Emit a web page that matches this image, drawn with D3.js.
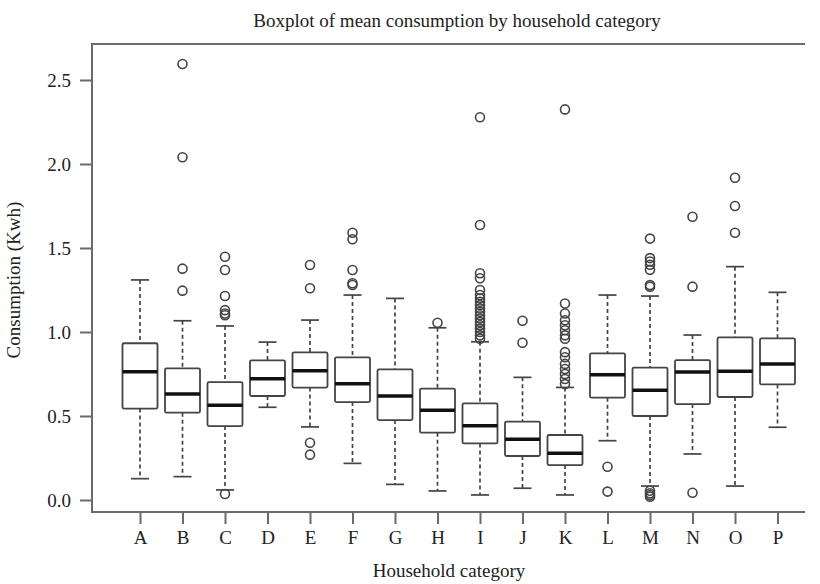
<!DOCTYPE html>
<html>
<head>
<meta charset="utf-8">
<script src="https://cdn.jsdelivr.net/npm/d3@7"></script>
<style>
  body { margin: 0; background: #fff; }
  text { font-family: "Liberation Serif", "DejaVu Serif", serif; fill: #222; }
</style>
</head>
<body>
<svg id="chart"></svg>
<script>
const categories = ["A","B","C","D","E","F","G","H","I","J","K","L","M","N","O","P"];
const lowWhisker = [0.127,0.139,0.06,0.552,0.435,0.218,0.093,0.054,0.03,0.07,0.03,0.353,0.083,0.274,0.083,0.433];
const q1Values   = [0.544,0.52,0.44,0.619,0.669,0.583,0.476,0.401,0.337,0.262,0.208,0.609,0.5,0.571,0.613,0.688];
const medians    = [0.764,0.631,0.564,0.722,0.77,0.692,0.619,0.534,0.442,0.361,0.278,0.746,0.653,0.762,0.766,0.81];
const q3Values   = [0.933,0.784,0.702,0.831,0.879,0.849,0.778,0.663,0.575,0.466,0.387,0.873,0.788,0.833,0.968,0.962];
const highWhisker= [1.31,1.067,1.036,0.94,1.071,1.22,1.2,1.025,0.942,0.73,0.67,1.22,1.214,0.982,1.389,1.236];
const outliers = [
  [],
  [2.595,2.04,1.377,1.246],
  [1.448,1.369,1.214,1.13,1.11,1.10,0.036],
  [],
  [1.399,1.26,0.341,0.27],
  [1.591,1.552,1.369,1.29,1.28],
  [],
  [1.055],
  [2.278,1.637,1.35,1.32,1.25,1.22,1.20,1.18,1.16,1.14,1.12,1.10,1.08,1.06,1.04,1.02,1.00,0.98,0.96],
  [1.067,0.936],
  [2.325,1.17,1.11,1.07,1.04,1.01,0.98,0.96,0.88,0.85,0.81,0.78,0.75,0.72,0.69],
  [0.198,0.05],
  [1.556,1.44,1.42,1.40,1.37,1.28,1.27,0.055,0.04,0.03,0.02],
  [1.686,1.27,0.043],
  [1.918,1.75,1.591],
  []
];
const yTicks = [0, 0.5, 1.0, 1.5, 2.0, 2.5];

const width = 820, height = 584;
const plotLeft = 92, plotTop = 44, plotBottom = 512, plotRight = 805;
const fontSize = 19;

const svg = d3.select("#chart").attr("width", width).attr("height", height);

const x = d3.scalePoint().domain(categories).range([140, 777.5]);
const y = d3.scaleLinear().domain([-12 / 168, 456 / 168]).range([plotBottom, plotTop]);

const axisColor = "#6a6a6a";
const boxColor = "#444";
const boxW = 35, capW = 18;

// frame (open at the right)
svg.append("path")
  .attr("d", `M${plotRight},${plotTop}H${plotLeft}V${plotBottom}H${plotRight}`)
  .attr("fill", "none").attr("stroke", axisColor).attr("stroke-width", 2);

// y axis
const yAxis = svg.append("g").attr("transform", `translate(${plotLeft},0)`)
  .call(d3.axisLeft(y).tickValues(yTicks).tickFormat(d3.format(".1f")).tickSize(12).tickPadding(9));
yAxis.select(".domain").remove();
yAxis.selectAll("line").attr("stroke", axisColor).attr("stroke-width", 2);
yAxis.selectAll("text").attr("font-size", fontSize).attr("fill", "#222")
  .style("font-family", "'Liberation Serif', serif");

// x axis
const xAxis = svg.append("g").attr("transform", `translate(0,${plotBottom})`)
  .call(d3.axisBottom(x).tickSize(12).tickPadding(7));
xAxis.select(".domain").remove();
xAxis.selectAll("line").attr("stroke", axisColor).attr("stroke-width", 2);
xAxis.selectAll("text").attr("font-size", fontSize).attr("fill", "#222")
  .style("font-family", "'Liberation Serif', serif");

// boxes
const rows = categories.map((c, i) => ({
  c, lo: lowWhisker[i], q1: q1Values[i], med: medians[i], q3: q3Values[i], hi: highWhisker[i], out: outliers[i]
}));

const g = svg.append("g");
const box = g.selectAll("g.box").data(rows).enter().append("g").attr("class", "box");

box.append("line")
  .attr("x1", d => x(d.c)).attr("x2", d => x(d.c))
  .attr("y1", d => y(d.hi)).attr("y2", d => y(d.q3))
  .attr("stroke", boxColor).attr("stroke-width", 1.7).attr("stroke-dasharray", "4,3");
box.append("line")
  .attr("x1", d => x(d.c)).attr("x2", d => x(d.c))
  .attr("y1", d => y(d.q1)).attr("y2", d => y(d.lo))
  .attr("stroke", boxColor).attr("stroke-width", 1.7).attr("stroke-dasharray", "4,3");
box.append("line")
  .attr("x1", d => x(d.c) - capW / 2).attr("x2", d => x(d.c) + capW / 2)
  .attr("y1", d => y(d.hi)).attr("y2", d => y(d.hi))
  .attr("stroke", boxColor).attr("stroke-width", 1.7);
box.append("line")
  .attr("x1", d => x(d.c) - capW / 2).attr("x2", d => x(d.c) + capW / 2)
  .attr("y1", d => y(d.lo)).attr("y2", d => y(d.lo))
  .attr("stroke", boxColor).attr("stroke-width", 1.7);
box.append("rect")
  .attr("x", d => x(d.c) - boxW / 2).attr("width", boxW)
  .attr("y", d => y(d.q3)).attr("height", d => y(d.q1) - y(d.q3))
  .attr("rx", 1.5)
  .attr("fill", "#fff").attr("stroke", boxColor).attr("stroke-width", 1.8);
box.append("line")
  .attr("x1", d => x(d.c) - boxW / 2).attr("x2", d => x(d.c) + boxW / 2)
  .attr("y1", d => y(d.med)).attr("y2", d => y(d.med))
  .attr("stroke", "#111").attr("stroke-width", 3.5);

box.selectAll("circle").data(d => d.out.map(v => ({ c: d.c, v }))).enter().append("circle")
  .attr("cx", d => x(d.c)).attr("cy", d => y(d.v)).attr("r", 4.5)
  .attr("fill", "none").attr("stroke", boxColor).attr("stroke-width", 1.6);

// titles
svg.append("text").attr("x", 457).attr("y", 27).attr("text-anchor", "middle")
  .attr("font-size", fontSize).text("Boxplot of mean consumption by household category");
svg.append("text").attr("x", 449).attr("y", 577).attr("text-anchor", "middle")
  .attr("font-size", fontSize).text("Household category");
svg.append("text").attr("transform", "translate(20,280) rotate(-90)").attr("text-anchor", "middle")
  .attr("font-size", fontSize).text("Consumption (Kwh)");
</script>
</body>
</html>
